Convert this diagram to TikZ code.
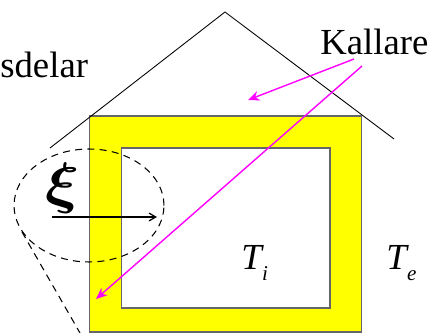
\documentclass[tikz,border=0pt]{standalone}
\usepackage{amsmath,bm}
\usepackage{fontspec}
\setmainfont{Liberation Serif}
\usetikzlibrary{positioning,shapes,arrows,arrows.meta}
\definecolor{wallyellow}{RGB}{255,255,0}
\definecolor{arrowpink}{RGB}{255,0,255}
\newcommand{\subtext}[1]{\kern-1pt\raisebox{-5.7pt}{\fontsize{12pt}{12pt}\selectfont\textit{#1}}}
\tikzstyle{wall}=[rectangle, draw=black!60, fill=wallyellow, line width=0.7pt]
\tikzstyle{room}=[rectangle, draw=black!60, fill=white, line width=0.7pt]
\tikzstyle{textlabel}=[inner sep=0pt, anchor=base west, font=\fontsize{20.9pt}{24pt}\selectfont]
\tikzstyle{pinkarrow}=[-{Stealth[length=6.5pt,width=5.5pt]}, draw=arrowpink, color=arrowpink, line width=0.8pt]
\tikzstyle{cutline}=[line width=0.6pt, dash pattern=on 4pt off 3pt]

\begin{document}
\begin{tikzpicture}[x=0.02cm, y=-0.02cm]
	\useasboundingbox (0,0) rectangle (435,333);

	% house
	\draw[wall] (89.5,116) rectangle (361.5,332);
	\draw[room] (121.5,148) rectangle (330,308);
	\draw[line width=0.5pt] (50,148) -- (225,12) -- (394,139);

	% labels
	\node (Kallare) [textlabel] at (320,55) {Kallare};
	\node (Sdelar) [textlabel] at (0,78) {sdelar};
	\node (Ti) [textlabel] at (241,270) {\textit{T}\subtext{i}};
	\node (Te) [textlabel] at (386,270) {\textit{T}\subtext{e}};
	\node (Xi) [inner sep=0pt] at (63,188) {\scalebox{1.45}[1.3]{\fontsize{38pt}{40pt}\selectfont$\bm{\xi}$}};

	% detail circle
	\node (Detail) [ellipse, draw, cutline, minimum width=3cm, minimum height=2.26cm, inner sep=0pt] at (89,205.5) {};
	\coordinate (CutStart) at (22,232);
	\coordinate (CutEnd) at (80,333);
	\draw[cutline] (CutStart) -- (CutEnd);

	\coordinate (AxisStart) at (52,217);
	\coordinate (AxisEnd) at (157,217);
	\draw[->, >=angle 60, line width=0.7pt] (AxisStart) -- (AxisEnd);

	% pink arrows
	\coordinate (RoofStart) at (354,59);
	\coordinate (RoofEnd) at (248,100);
	\coordinate (WallStart) at (362,66);
	\coordinate (WallEnd) at (96,299);
	\draw[pinkarrow] (RoofStart) -- (RoofEnd);
	\draw[pinkarrow] (WallStart) -- (WallEnd);

\end{tikzpicture}
\end{document}
